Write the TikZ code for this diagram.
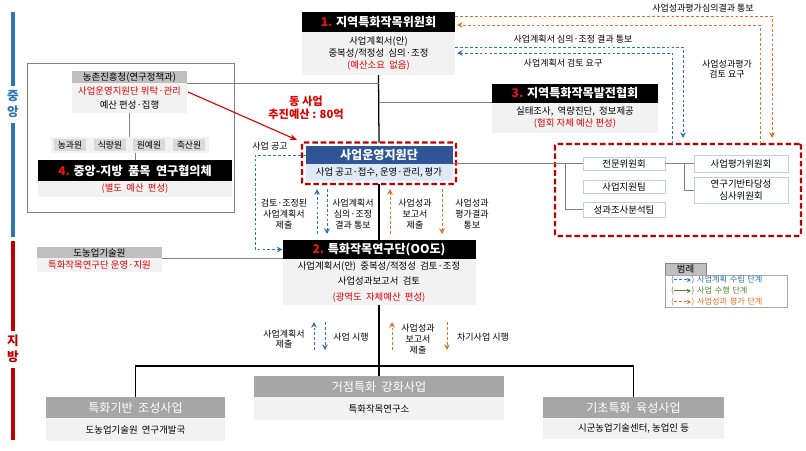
\documentclass[tikz,border=0pt]{standalone}
\usepackage{fontspec}
\setmainfont{Noto Sans CJK KR}
\usetikzlibrary{arrows.meta,calc}

\definecolor{planblue}{RGB}{46,117,182}
\definecolor{evalorange}{RGB}{230,110,35}
\definecolor{doGreen}{RGB}{84,130,53}
\definecolor{numred}{RGB}{235,20,20}
\definecolor{txtred}{RGB}{225,0,0}
\definecolor{boxred}{RGB}{192,0,0}
\definecolor{barblue}{RGB}{46,117,182}
\definecolor{barred}{RGB}{192,0,0}
\definecolor{supblue}{RGB}{47,85,151}
\definecolor{suplight}{RGB}{222,235,247}
\definecolor{lightfill}{RGB}{242,242,242}
\definecolor{midgray}{RGB}{191,191,191}
\definecolor{hdrgray}{RGB}{166,166,166}
\definecolor{itemgray}{RGB}{217,217,217}
\definecolor{linegray}{RGB}{130,130,130}
\definecolor{unitline}{RGB}{190,210,228}

\newcommand\hdrfont{\fontsize{8.6}{10}\selectfont\bfseries}
\newcommand\botfont{\fontsize{8.6}{10}\selectfont}
\newcommand\txtfont{\fontsize{6.7}{8.2}\selectfont}
\newcommand\smallfont{\fontsize{6.3}{7.5}\selectfont}
\newcommand\lblfont{\fontsize{6.4}{7.6}\selectfont}
\newcommand\legfont{\fontsize{5.8}{7.8}\selectfont}
\newcommand\legarrow[1]{\tikz[x=1cm,y=1cm,baseline=-0.6ex]\draw[#1,-{Stealth[length=3pt,width=3pt]}] (0,0) -- (0.42,0);}

\tikzset{
  wh/.style 2 args={minimum width=#1*0.025cm, minimum height=#2*0.025cm},
  box/.style={inner sep=0pt, outer sep=0pt, align=center},
  hdr/.style={box, fill=black, text=white, font=\hdrfont},
  bodybox/.style={box, fill=lightfill, font=\txtfont},
  subhdr/.style={box, fill=midgray, font=\txtfont},
  greyhdr/.style={box, fill=hdrgray, text=white, font=\botfont},
  bluehdr/.style={box, fill=supblue, text=white, font=\hdrfont},
  bluebody/.style={box, fill=suplight, font=\txtfont},
  itembox/.style={box, fill=itemgray, font=\smallfont},
  rowbox/.style={box, fill=lightfill},
  unitbox/.style={box, fill=white, draw=unitline, line width=0.6pt, font=\txtfont},
  framebox/.style={box, draw=linegray, line width=0.6pt},
  groupbox/.style={box, draw=boxred, line width=1.6pt, dash pattern=on 4pt off 2pt, rounded corners=1pt},
  lbl/.style={align=center, font=\lblfont, inner sep=1pt},
  side/.style={align=center, font=\fontsize{9}{11.5}\selectfont\bfseries, inner sep=0pt},
  budget/.style={align=center, text=txtred, font=\fontsize{8}{9.3}\selectfont\bfseries, inner sep=0pt},
  plan/.style={planblue, dash pattern=on 2pt off 1.5pt, line width=0.7pt},
  evalc/.style={evalorange, dash pattern=on 2pt off 1.5pt, line width=0.7pt},
  doit/.style={doGreen, line width=0.7pt},
  conn/.style={linegray, line width=0.6pt},
  mainline/.style={black, line width=0.9pt},
  redline/.style={txtred, line width=0.8pt, -{Stealth[length=5pt,width=4pt]}},
}

\begin{document}
\begin{tikzpicture}[x=0.025cm, y=-0.025cm, >={Stealth[length=4pt,width=4pt]}]
%%%%% START %%%%%
\useasboundingbox (0,0) rectangle (806,450);

% side bars
\draw[barblue, line width=2.8pt] (13,12) -- (13,86);
\node[side, text=barblue] (central) at (13,104) {중\\앙};
\draw[barblue, line width=2.8pt] (13,123) -- (13,237);
\draw[barred, line width=2.8pt] (13,241) -- (13,331);
\node[side, text=barred] (local) at (13,349) {지\\방};
\draw[barred, line width=2.8pt] (13,368) -- (13,440);

% 1. committee
\node[hdr, wh={153}{20}] (c1) at (378.5,22) {{\color{numred}1.} 지역특화작목위원회};
\node[bodybox, wh={153}{43}, anchor=north] (c1b) at (c1.south) {사업계획서(안)\\중복성/적정성~~심의·조정\\{\color{txtred}(예산소요~~없음)}};

% 3. association
\node[hdr, wh={166}{19}] (a3) at (575,93) {{\color{numred}3.} 지역특화작목발전협회};
\node[bodybox, wh={166}{30}, anchor=north] (a3b) at (a3.south) {실태조사,~~역량진단,~~정보제공\\{\color{txtred}(협회 자체 예산 편성)}};

% RDA frame and 4. council
\node[framebox, wh={207}{149}] (frame) at (130.5,137.5) {};
\node[subhdr, wh={115}{12}] (rda) at (129.5,77) {농촌진흥청(연구정책과)};
\node[bodybox, wh={115}{30}, anchor=north] (rdab) at (rda.south) {{\color{txtred}사업운영지원단 위탁·관리}\\[2pt]예산 편성·집행};
\node[rowbox, wh={158}{16}] (row) at (129.5,145) {};
\foreach \x/\t [count=\i] in {70/농과원,110/식량원,149/원예원,189/축산원}
  \node[itembox, wh={32}{12}] (inst\i) at (\x,145) {\t};
\node[hdr, wh={194}{21}] (c4) at (135,170.5) {{\color{numred}4.} 중앙-지방~~품목~~연구협의체};
\node[bodybox, wh={194}{16}, anchor=north] (c4b) at (c4.south) {{\color{txtred}(별도~~예산~~편성)}};
\draw[conn] (rdab.south) -- (row.north);
\draw[conn] (row.south -| c4.north) -- (c4.north);

\node[budget] (fund) at (306,107.5) {동 사업\\추진예산 : 80억};

% support group
\node[bluehdr, wh={147}{18}] (sup) at (379,155) {사업운영지원단};
\node[bluebody, wh={147}{17}, anchor=north] (supb) at (sup.south) {사업 공고·접수,~운영·관리,~평가};
\draw[draw=boxred, line width=1.6pt, dash pattern=on 4pt off 2pt, rounded corners=1pt] (302,142.5) rectangle (456,184);
\node[lbl] (notice) at (270,146) {사업 공고};

% committees group
\node[groupbox, wh={246}{92}] (grp) at (678,190) {};
\node[unitbox, wh={82}{13}] (u1) at (624,163.5) {전문위원회};
\node[unitbox, wh={82}{13}] (u2) at (624,186.5) {사업지원팀};
\node[unitbox, wh={82}{15}] (u3) at (624,209.5) {성과조사분석팀};
\node[unitbox, wh={94}{17}] (u4) at (741,163.5) {사업평가위원회};
\node[unitbox, wh={94}{26}] (u5) at (741,190) {연구기반타당성\\심사위원회};
\coordinate (brk1) at (565,163.5);
\coordinate (brk2) at (684,163.5);
\draw[conn] (sup.east |- u1.west) -- (u1.west);
\draw[conn] (brk1) |- (u3.west);
\draw[conn] (u1.east) -- (u4.west);
\draw[conn] (brk2) |- (u5.west);

% 2. research group
\node[hdr, wh={193}{19}] (c2) at (379,249.5) {{\color{numred}2.} 특화작목연구단(OO도)};
\node[bodybox, wh={193}{46}, anchor=north] (c2b) at (c2.south) {사업계획서(안)~~중복성/적정성~~검토·조정\\[2pt]사업성과보고서~~검토\\[3pt]{\color{txtred}(광역도~~자체예산~~편성)}};
\node[subhdr, wh={125}{11}] (prov) at (99.5,252.5) {도농업기술원};
\node[bodybox, wh={125}{14}, anchor=north] (provb) at (prov.south) {{\color{txtred}특화작목연구단 운영·지원}};
\draw[conn] (prov.south east) -- (prov.south east -| c2.west);

% main lines
\draw[mainline] (c1b.south) -- (sup.north |- 0,142.5);
\draw[conn] (rda.south east) -- (rda.south east -| c1b.south);
\draw[conn] (a3.south west) -- (a3.south west -| c1b.south);
\draw[redline] (188,92) -- (297,140);
\draw[mainline] (0,184 -| supb.south) -- (c2.north);

% top right flows
\coordinate (o1) at (772,16);
\coordinate (o2) at (760,25);
\coordinate (p1) at (683,47);
\coordinate (p2) at (672,53);
\draw[evalc, ->] (c1.east |- o1) -- (o1) -- ($(o1 |- grp.north)+(0,-6)$);
\draw[evalc, ->] (o2 |- grp.north) -- (o2) -- ($(c1.east |- o2)+(2,0)$);
\draw[plan, ->] (c1b.east |- p1) -- (p1) -- ($(p1 |- grp.north)+(0,-6)$);
\draw[plan, ->] (p2 |- grp.north) -- (p2) -- ($(c1b.east |- p2)+(2,0)$);
\node[lbl] (t1) at (703,8) {사업성과평가심의결과 통보};
\node[lbl] (t2) at (727,69) {사업성과평가\\검토 요구};
\node[lbl] (t3) at (573,39) {사업계획서 심의·조정 결과 통보};
\node[lbl] (t4) at (563,63) {사업계획서 검토 요구};

% notice path
\draw[plan, ->] (sup.west) -- (255,155) |- (c2.west);

% flows between support group and research group
\draw[plan, ->] (317,234) -- (317,189);
\draw[plan, ->] (327,189) -- (327,234);
\draw[evalc, ->] (390,234) -- (390,189);
\draw[evalc, ->] (442,189) -- (442,234);
\node[lbl] (m1) at (284,214) {검토·조정된\\사업계획서\\제출};
\node[lbl] (m2) at (353,214) {사업계획서\\심의·조정\\결과 통보};
\node[lbl] (m3) at (415,214) {사업성과\\보고서\\제출};
\node[lbl] (m4) at (472,214) {사업성과\\평가결과\\통보};

% flows below research group
\draw[plan, ->] (314,350) -- (314,322);
\draw[plan, ->] (325,322) -- (325,350);
\draw[evalc, ->] (392,350) -- (392,322);
\draw[evalc, ->] (447,322) -- (447,350);
\node[lbl] (n1) at (284,339) {사업계획서\\제출};
\node[lbl] (n2) at (351,337) {사업 시행};
\node[lbl] (n3) at (418,339) {사업성과\\보고서\\제출};
\node[lbl] (n4) at (483,337) {차기사업 시행};

% projects
\node[greyhdr, wh={250}{21}] (b2) at (379,386.5) {거점특화~~강화사업};
\node[bodybox, wh={250}{23}, anchor=north] (b2b) at (b2.south) {특화작목연구소};
\node[greyhdr, wh={179}{21}] (b1) at (135.5,407.5) {특화기반~~조성사업};
\node[bodybox, wh={179}{23}, anchor=north] (b1b) at (b1.south) {도농업기술원~~연구개발국};
\node[greyhdr, wh={181}{21}] (b3) at (633.5,407.5) {기초특화~~육성사업};
\node[bodybox, wh={181}{21}, anchor=north] (b3b) at (b3.south) {시군농업기술센터,~농업인 등};
\draw[mainline] (c2b.south) -- (b2.north);
\draw[mainline] (b1.north) |- (0,366 -| b3.north) -- (b3.north);

% legend
\node[subhdr, draw=linegray, line width=0.5pt, wh={41}{12}] (leg) at (685.5,269) {범례};
\node[box, draw=linegray!70, line width=0.5pt, fill=white, wh={122}{32}, anchor=north west, align=left, font=\legfont, text width=110*0.025cm] (legb) at (leg.south west) {{\color{planblue}(\legarrow{plan}) 사업계획 수립 단계}\\{\color{doGreen}(\legarrow{doit}) 사업 수행 단계}\\{\color{evalorange}(\legarrow{evalc}) 사업성과 평가 단계}};

%%%%% END %%%%%
\end{tikzpicture}
\end{document}
